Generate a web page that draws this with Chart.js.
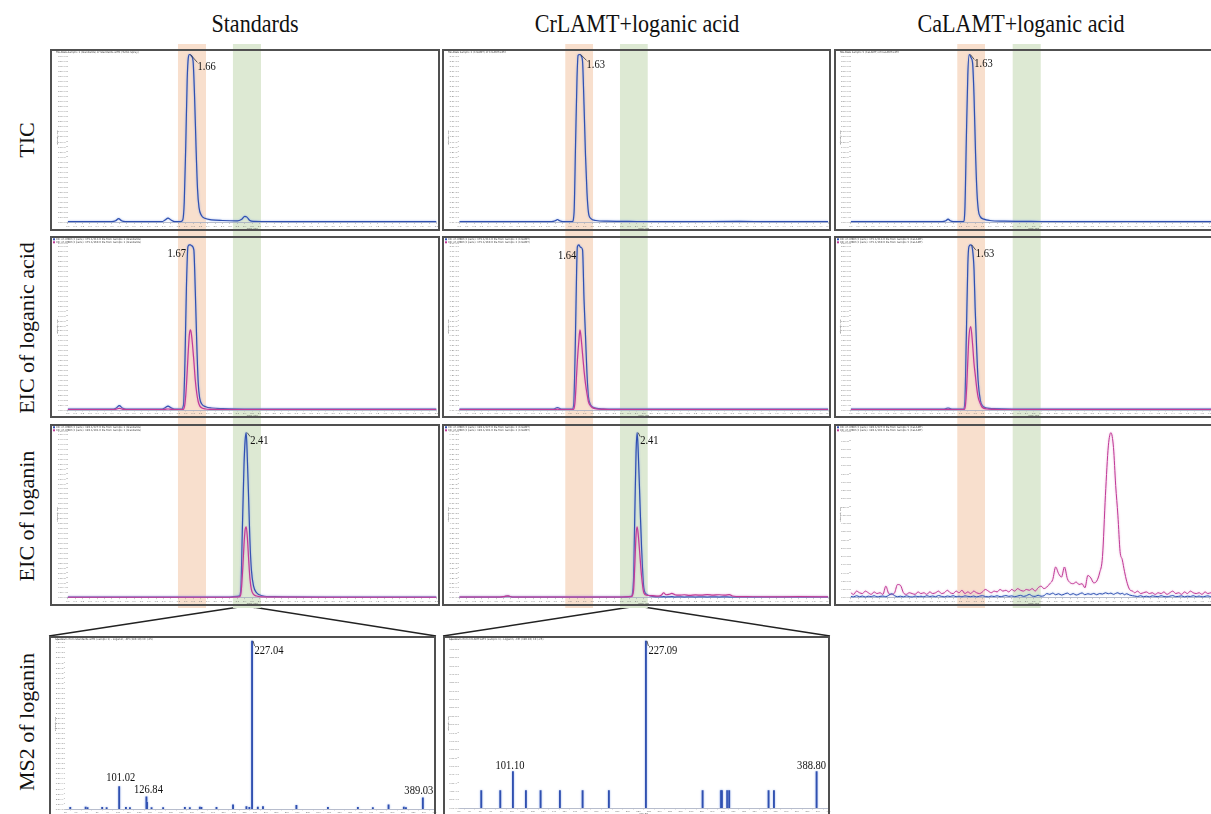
<!DOCTYPE html>
<html>
<head>
<meta charset="utf-8">
<script src="https://cdn.jsdelivr.net/npm/chart.js@4.4.0/dist/chart.umd.min.js"></script>
<style>
  body { margin: 0; background: #fff; width: 1211px; height: 814px; overflow: hidden; position: relative;
         font-family: "Liberation Serif", "Times New Roman", serif; color: #111; }
  canvas { position: absolute; }
  .colTitle { position: absolute; top: 11px; font-size: 26px; line-height: 1; white-space: nowrap;
              transform: translateX(-50%) scaleX(0.85); }
  .rowTitle { position: absolute; left: 27px; font-size: 22px; line-height: 1; white-space: nowrap;
              transform: translate(-50%, -50%) rotate(-90deg); }
  svg { position: absolute; left: 0; top: 0; }
</style>
</head>
<body>
<div class="colTitle" style="left:255px">Standards</div>
<div class="colTitle" style="left:637px">CrLAMT+loganic acid</div>
<div class="colTitle" style="left:1021px">CaLAMT+loganic acid</div>
<div class="rowTitle" style="top:140px">TIC</div>
<div class="rowTitle" style="top:328px">EIC of loganic acid</div>
<div class="rowTitle" style="top:516px">EIC of loganin</div>
<div class="rowTitle" style="top:722px">MS2 of loganin</div>
<svg id="links" width="1211" height="814"></svg>

<script>
// ---- data (retention time in min, intensity in % of panel max) ----
// TIC
const ticStdTime = [0, 0.60, 0.65, 0.69, 0.73, 0.78, 1.28, 1.32, 1.36, 1.40, 1.45, 1.53, 1.56, 1.58, 1.60, 1.62, 1.635, 1.65, 1.68, 1.70, 1.72, 1.74, 1.76, 1.78, 1.81, 1.86, 1.95, 2.10, 2.30, 2.36, 2.40, 2.43, 2.47, 2.52, 2.70, 3.20, 4.00, 5.00];
const ticStdBlue = [0.5, 0.5, 1.0, 2.3, 1.0, 0.5, 0.5, 1.5, 2.6, 1.5, 0.5, 0.5, 1.5, 12, 45, 85, 98, 100, 99, 96, 75, 45, 20, 9, 4.5, 2.5, 1.6, 1.2, 1.0, 2.0, 3.6, 3.2, 1.2, 0.7, 0.6, 0.5, 0.5, 0.5];
const ticCrTime = [0, 1.25, 1.30, 1.33, 1.36, 1.40, 1.53, 1.555, 1.575, 1.595, 1.61, 1.63, 1.655, 1.67, 1.69, 1.71, 1.73, 1.75, 1.78, 1.85, 2.0, 2.4, 3.0, 3.8, 4.2, 5.0];
const ticCrBlue = [0.5, 0.5, 1.0, 1.8, 1.0, 0.5, 0.5, 6, 46, 86, 99.5, 100, 99, 96, 70, 40, 18, 6, 2.5, 1.2, 0.8, 0.6, 0.5, 0.7, 0.5, 0.5];
const ticCaTime = [0, 1.25, 1.30, 1.33, 1.36, 1.40, 1.54, 1.56, 1.58, 1.60, 1.62, 1.645, 1.665, 1.685, 1.705, 1.725, 1.745, 1.77, 1.82, 1.90, 2.1, 2.6, 3.2, 3.8, 4.4, 5.0];
const ticCaBlue = [0.5, 0.5, 1.0, 2.0, 1.0, 0.5, 0.5, 8, 50, 88, 100, 98, 95, 75, 42, 18, 7, 3.5, 2, 1.2, 0.8, 0.6, 0.5, 0.6, 0.5, 0.5];

// EIC of loganic acid (blue / magenta transitions)
const laStdTime = [0, 0.62, 0.66, 0.70, 0.74, 0.79, 1.28, 1.32, 1.36, 1.40, 1.45, 1.54, 1.57, 1.59, 1.61, 1.63, 1.65, 1.665, 1.68, 1.71, 1.73, 1.75, 1.77, 1.79, 1.82, 1.87, 1.95, 2.1, 2.5, 3.5, 5.0];
const laStdBlue = [0.5, 0.5, 1.2, 2.6, 1.2, 0.5, 0.5, 1.3, 2.4, 1.3, 0.5, 0.5, 3, 30, 75, 99, 100, 100, 99.5, 97, 72, 40, 16, 7, 3.5, 2, 1.2, 0.8, 0.5, 0.5, 0.5];
const laStdPink = [0.2, 0.2, 0.5, 1.0, 0.5, 0.2, 0.2, 0.4, 0.6, 0.4, 0.2, 0.2, 0.5, 4, 15, 32, 46, 48.5, 45, 30, 18, 10, 5, 2.5, 1.2, 0.6, 0.4, 0.3, 0.2, 0.2, 0.2];
const laCrTime = [0, 1.26, 1.30, 1.33, 1.36, 1.40, 1.53, 1.55, 1.57, 1.59, 1.60, 1.62, 1.635, 1.65, 1.67, 1.69, 1.71, 1.73, 1.75, 1.77, 1.80, 1.86, 1.95, 2.2, 3.0, 5.0];
const laCrBlue = [0.5, 0.5, 0.9, 1.5, 0.9, 0.5, 0.5, 3, 35, 85, 99, 100, 99, 98.5, 97, 67, 45, 22, 8, 4, 2, 1.0, 0.7, 0.5, 0.5, 0.5];
const laCrPink = [0.2, 0.2, 0.3, 0.5, 0.3, 0.2, 0.2, 0.5, 6, 22, 30, 42, 48.5, 44, 34, 24, 16, 10, 5, 3, 1.5, 0.6, 0.4, 0.2, 0.2, 0.2];
const laCaTime = [0, 1.26, 1.30, 1.33, 1.36, 1.40, 1.54, 1.56, 1.58, 1.60, 1.615, 1.64, 1.665, 1.685, 1.70, 1.72, 1.74, 1.77, 1.80, 1.86, 1.95, 2.2, 3.0, 5.0];
const laCaBlue = [0.5, 0.5, 0.8, 1.2, 0.8, 0.5, 0.5, 5, 45, 88, 99, 100, 97, 85, 62, 38, 18, 6, 2.5, 1.2, 0.8, 0.5, 0.5, 0.5];
const laCaPink = [0.2, 0.2, 0.3, 0.4, 0.3, 0.2, 0.2, 1, 10, 30, 44, 50.5, 40, 28, 22, 14, 8, 4, 1.5, 0.6, 0.4, 0.2, 0.2, 0.2];

// EIC of loganin
const lgStdTime = [0, 2.20, 2.30, 2.33, 2.35, 2.37, 2.39, 2.405, 2.42, 2.435, 2.455, 2.47, 2.49, 2.52, 2.56, 2.64, 2.8, 3.5, 5.0];
const lgStdBlue = [0.4, 0.4, 0.8, 1.2, 8, 45, 80, 95, 100, 85, 57, 35, 17, 7, 3, 1.2, 0.6, 0.4, 0.4];
const lgStdPink = [0.2, 0.2, 0.4, 0.6, 3, 15, 32, 41, 43, 37, 22, 12, 5, 2, 1, 0.5, 0.3, 0.2, 0.2];
const lgCrTime = [0, 0.55, 0.62, 0.66, 0.72, 1.30, 2.20, 2.33, 2.36, 2.38, 2.395, 2.41, 2.425, 2.45, 2.47, 2.50, 2.54, 2.62, 2.70, 2.74, 2.77, 2.80, 2.84, 2.88, 2.92, 2.98, 3.05, 3.12, 3.20, 3.28, 3.36, 3.44, 3.52, 3.60, 3.66, 3.70, 3.76, 3.9, 4.2, 4.6, 5.0];
const lgCrBlue = [0.3, 0.3, 0.8, 1.0, 0.4, 0.3, 0.3, 0.8, 10, 55, 88, 100, 88, 55, 30, 6, 2, 0.8, 0.5, 0.5, 0.6, 0.4, 0.5, 0.6, 0.4, 0.5, 0.4, 0.5, 0.4, 0.5, 0.4, 0.5, 0.4, 0.5, 0.4, 0.4, 0.3, 0.3, 0.3, 0.3, 0.3];
const lgCrPink = [0.3, 0.3, 0.8, 1.1, 0.4, 0.4, 0.4, 0.6, 4, 22, 38, 43, 38, 24, 13, 3, 1.5, 1.2, 1.0, 1.6, 3.0, 1.8, 2.0, 2.6, 1.8, 1.5, 1.8, 1.4, 1.7, 1.5, 1.9, 1.6, 1.8, 1.5, 1.9, 1.0, 0.7, 0.6, 0.5, 0.6, 0.5];
const lgCaTime = [0.00, 0.04, 0.08, 0.12, 0.16, 0.20, 0.24, 0.28, 0.32, 0.36, 0.40, 0.44,
  0.48, 0.52, 0.56, 0.60, 0.64, 0.68, 0.72, 0.76, 0.80, 0.84, 0.88, 0.92,
  0.96, 1.00, 1.04, 1.08, 1.12, 1.16, 1.20, 1.24, 1.28, 1.32, 1.36, 1.40,
  1.44, 1.48, 1.52, 1.56, 1.60, 1.64, 1.68, 1.72, 1.76, 1.80, 1.84, 1.88,
  1.92, 1.96, 2.00, 2.04, 2.08, 2.12, 2.16, 2.20, 2.24, 2.28, 2.32, 2.36,
  2.40, 2.44, 2.48, 2.52, 2.56, 2.60, 2.64, 2.68, 2.72, 2.76, 2.80, 2.84,
  2.88, 2.92, 2.96, 3.00, 3.04, 3.08, 3.12, 3.16, 3.20, 3.24, 3.28, 3.32,
  3.36, 3.40, 3.44,
  3.48, 3.52, 3.555, 3.59, 3.62, 3.65, 3.68, 3.71, 3.74, 3.77, 3.81, 3.85,
  3.88, 3.92, 3.96, 4.00, 4.04, 4.08, 4.12, 4.16, 4.20, 4.24, 4.28, 4.32, 4.36, 4.40,
  4.44, 4.48, 4.52, 4.56, 4.60, 4.64, 4.68, 4.72, 4.76, 4.80, 4.84, 4.88, 4.92, 4.96];
const lgCaPink = [3, 2, 4, 3, 2.5, 4, 3, 2, 3.5, 2.5, 3, 2,
  7, 2.5, 2, 3, 8, 7.5, 3, 2, 3, 2.5, 2, 3.5,
  2.5, 3, 2, 3.5, 2.5, 3, 4, 2.5, 3, 4.5, 3, 2.5,
  4, 3, 4.5, 2.5, 3.5, 2.5, 4, 3, 2.5, 3.5, 5, 4,
  3, 4, 3.5, 5, 4, 4.5, 3.5, 5, 4, 5.5, 4.5, 4,
  5, 4.5, 5.5, 4, 6, 7, 5.5, 6.5, 8.5, 11, 18.6, 14.6,
  12.5, 18.6, 11.5, 9, 8.5, 9.5, 8, 8.5, 6, 13.5, 12, 9,
  10, 15, 25,
  62, 92, 100, 91, 68, 50, 28, 23, 16, 10, 5, 4,
  3, 4, 2.5, 3, 3.5, 2.5, 3, 2, 3, 2.5, 3.5, 2, 3, 4,
  2.5, 3, 2, 3.5, 2.5, 4, 3, 2.5, 3, 2, 3.5, 2.5, 3, 2.5];
const lgCaBlue = [0.8, 0.5, 1.2, 0.6, 1, 0.4, 0.9, 0.6, 1.2, 0.5, 0.8, 1,
  0.6, 1.5, 2.4, 1.2, 0.6, 0.9, 0.5, 1.1, 0.7, 0.4, 1, 0.6,
  0.9, 0.5, 1.2, 0.7, 1, 0.6, 1.3, 0.8, 0.5, 1, 0.7, 1.2,
  0.6, 0.9, 0.5, 1.1, 0.8, 0.6, 1, 0.5, 0.9, 1.2, 0.7, 0.5,
  1, 0.7, 1.2, 0.6, 0.9, 1.3, 0.8, 1.1, 0.6, 1, 1.4, 0.8,
  1.2, 2, 1, 0.8, 1.5, 0.9, 1.2, 2.5, 2, 2.8, 1.8, 2.4,
  1.6, 2.2, 2.8, 1.8, 2.5, 1.6, 2.2, 2.9, 1.8, 2.4, 2, 2.6,
  1.8, 2.5, 2.2,
  3, 2.4, 2.8, 2, 2.6, 3, 2.2, 2.7, 1.8, 2.4, 1.6, 1.2,
  1, 0.7, 1.2, 0.6, 0.9, 0.5, 1.1, 0.8, 0.6, 1.2, 0.7, 0.5, 0.9, 1.3,
  0.6, 0.8, 1.1, 0.5, 0.9, 0.7, 1.2, 0.6, 1, 0.5, 0.8, 1.1, 0.6, 0.9];

// MS2 of loganin (m/z, relative intensity %)
const ms2StdMz = [54.6, 69.2, 71.0, 84.9, 89.1, 101.02, 107.4, 111.2, 126.84, 127.4, 131.7, 142.7, 163.3, 168, 177.5, 179, 193.3, 209, 221.7, 224.5, 227.04, 232.5, 237.4, 269.1, 299, 327.4, 341.6, 356.5, 371, 373, 389.03];
const ms2StdInt = [1.0, 1.2, 0.8, 1.0, 0.8, 13.3, 1.0, 0.8, 7.3, 4.0, 0.8, 0.8, 1.0, 0.9, 1.2, 1.0, 1.0, 2.5, 1.4, 1.0, 100, 1.2, 1.4, 2.2, 1.0, 1.0, 0.8, 2.5, 1.2, 0.9, 6.7];
const ms2CrMz = [71.1, 89.1, 101.10, 113.4, 127.3, 145.6, 167.1, 192.0, 227.09, 280.8, 298.1, 299.1, 304.1, 306.0, 343.3, 348.4, 388.80];
const ms2CrInt = [10.5, 10.5, 21.8, 10.5, 10.5, 10.5, 10.5, 10.5, 100, 10.5, 10.5, 10.5, 10.5, 10.5, 10.5, 10.5, 21.8];

// ---- styling ----
const BLUE = '#3050b0', BLUE_HALO = 'rgba(130,160,230,0.9)';
const PINK = '#c03b97', PINK_HALO = 'rgba(230,150,205,0.9)';
const ORANGE = '#f8dfcd', GREEN = '#dde9d3';
const X_H = 7, Y_W = 12;

// page geometry of the columns / rows
const COLS = [
  { box: [50, 440], plot: [67.7, 436.5], canvas: [50, 440], bands: [[1.495, 1.875, ORANGE], [2.24, 2.62, GREEN]] },
  { box: [442, 831], plot: [459.3, 828.3], canvas: [442, 831], bands: [[1.436, 1.812, ORANGE], [2.177, 2.553, GREEN]] },
  { box: [834, 1230], plot: [850.7, 1216.7], canvas: [834, 1224], bands: [[1.456, 1.835, ORANGE], [2.213, 2.596, GREEN]] }
];
const ROWS = [
  { box: [49, 231], plot: [52.8, 222.5], canvas: [44, 234] },
  { box: [236, 418], plot: [243.3, 410], canvas: [234, 421] },
  { box: [424, 606], plot: [431, 597.7], canvas: [421, 608] }
];

function pts(xs, ys) { return xs.map((x, i) => ({ x: x, y: ys[i] })); }

const decor = {
  id: 'decor',
  beforeDraw(chart, args, o) {
    const ctx = chart.ctx, x = chart.scales.x;
    (o.bands || []).forEach(b => {
      const x0 = x.getPixelForValue(b[0]), x1 = x.getPixelForValue(b[1]);
      ctx.fillStyle = b[2];
      ctx.fillRect(x0, 0, x1 - x0, chart.height);
    });
  },
  beforeDatasetDraw(chart, args) {
    const ds = chart.data.datasets[args.index];
    chart.ctx.save();
    chart.ctx.shadowColor = ds.halo;
    chart.ctx.shadowBlur = 2;
  },
  afterDatasetDraw(chart) { chart.ctx.restore(); },
  afterDraw(chart, args, o) {
    const ctx = chart.ctx, x = chart.scales.x, y = chart.scales.y;
    const bx = o.box[0], by = o.box[1];
    // panel frame
    ctx.save();
    ctx.strokeStyle = '#505050';
    ctx.lineWidth = 2;
    ctx.strokeRect(bx + 1, by + 1, o.box[2] - 2, o.box[3] - 2);
    // tiny header lines
    ctx.font = '2.6px "DejaVu Sans", sans-serif';
    ctx.textBaseline = 'middle';
    o.header.forEach((h, i) => {
      const ty = by + 3.3 + i * 3;
      if (h.color) { ctx.fillStyle = h.color; ctx.fillRect(bx + 3, ty - 1, 2, 2); }
      ctx.fillStyle = '#444';
      ctx.fillText(h.text, bx + 6, ty);
    });
    // peak labels
    ctx.font = '13.5px "Liberation Serif", serif';
    ctx.fillStyle = '#111';
    o.labels.forEach(l => {
      const px = x.getPixelForValue(l.x), py = y.getPixelForValue(l.y);
      if (l.leader) {
        ctx.strokeStyle = '#333'; ctx.lineWidth = 0.8;
        ctx.beginPath(); ctx.moveTo(px + 1, py); ctx.lineTo(px + l.dx, py + l.dy - 4); ctx.stroke();
      }
      ctx.save();
      ctx.translate(px + l.dx, py + l.dy);
      ctx.scale(0.78, 1);
      ctx.textAlign = l.align;
      ctx.fillText(l.text, 0, 0);
      ctx.restore();
    });
    ctx.restore();
  }
};

function axisX(min, max, step, title, digits) {
  return {
    type: 'linear', min: min, max: max, offset: false,
    ticks: { stepSize: step, autoSkip: false, maxRotation: 0, padding: 0.5, color: '#777',
             font: { size: 2.5 }, callback: v => v.toFixed(digits) },
    grid: { display: true, drawOnChartArea: false, tickLength: 1.5, color: '#999', lineWidth: 0.5 },
    border: { color: '#a4acc0', width: 0.8 },
    title: { display: true, text: title, font: { size: 2.5 }, color: '#555', padding: 0 },
    afterFit: s => { s.height = X_H; }
  };
}
function axisY(max, step, cps) {
  return {
    min: 0, max: max,
    ticks: { stepSize: step, autoSkip: false, padding: 0.5, color: '#777', font: { size: 2.5 },
             callback: v => (v * cps / 100).toExponential(1) },
    grid: { display: true, drawOnChartArea: false, tickLength: 1.5, color: '#999', lineWidth: 0.5 },
    border: { display: false },
    title: { display: true, text: 'Intensity, cps', font: { size: 2.5 }, color: '#555', padding: 0 },
    afterFit: s => { s.width = Y_W; }
  };
}

function makePanel(p) {
  const [cl, cr] = p.canvasX, [ct, cb] = p.canvasY;
  const cv = document.createElement('canvas');
  cv.width = cr - cl; cv.height = cb - ct;
  cv.style.left = cl + 'px'; cv.style.top = ct + 'px';
  cv.style.width = (cr - cl) + 'px'; cv.style.height = (cb - ct) + 'px';
  document.body.appendChild(cv);
  const chart = new Chart(cv, {
    type: p.type,
    data: { datasets: p.datasets },
    options: {
      responsive: false, animation: false, events: [],
      layout: { padding: {
        left: p.plotX[0] - cl - Y_W, right: cr - p.plotX[1],
        top: p.plotY[0] - ct, bottom: cb - p.plotY[1] - X_H } },
      scales: { x: p.x, y: p.y },
      plugins: {
        legend: { display: false }, tooltip: { enabled: false },
        decor: {
          bands: p.bands || [], header: p.header, labels: p.labels,
          box: [p.boxX[0] - cl, p.boxY[0] - ct, p.boxX[1] - p.boxX[0], p.boxY[1] - p.boxY[0]]
        }
      }
    },
    plugins: [decor]
  });
  chart.$left = cl; chart.$top = ct;
  return chart;
}

function line(data, color, halo, width) {
  return { data: data, borderColor: color, halo: halo, borderWidth: width || 1.2, pointRadius: 0,
           cubicInterpolationMode: 'monotone', fill: false };
}

function chromPanel(ci, ri, series, header, labels, ymax, ystep, cps) {
  const c = COLS[ci], r = ROWS[ri];
  return makePanel({
    type: 'line',
    canvasX: c.canvas, canvasY: r.canvas, plotX: c.plot, plotY: r.plot,
    boxX: c.box, boxY: r.box, bands: c.bands,
    datasets: series, header: header, labels: labels,
    x: axisX(0, 5, 0.1, 'Time, min', 1), y: axisY(ymax, ystep, cps)
  });
}

const hdr = (t, c) => ({ text: t, color: c });

// row 1: TIC
chromPanel(0, 0, [line(pts(ticStdTime, ticStdBlue), BLUE, BLUE_HALO)],
  [hdr('TIC from Sample 1 (Standards) of Standards.wiff2 (Turbo Spray)')],
  [{ text: '1.66', x: 1.65, y: 100, dx: 8, dy: 12, align: 'left', leader: true }], 101, 3, 3.6e6);
chromPanel(1, 0, [line(pts(ticCrTime, ticCrBlue), BLUE, BLUE_HALO)],
  [hdr('TIC from Sample 3 (CrLAMT) of CrLAMT.wiff2')],
  [{ text: '1.63', x: 1.63, y: 100, dx: 7, dy: 10, align: 'left', leader: true }], 101, 3, 2.9e6);
chromPanel(2, 0, [line(pts(ticCaTime, ticCaBlue), BLUE, BLUE_HALO)],
  [hdr('TIC from Sample 5 (CaLAMT) of CaLAMT.wiff2')],
  [{ text: '1.63', x: 1.62, y: 100, dx: 5, dy: 9, align: 'left', leader: true }], 101, 3, 3.1e6);

// row 2: EIC of loganic acid
chromPanel(0, 1, [line(pts(laStdTime, laStdPink), PINK, PINK_HALO), line(pts(laStdTime, laStdBlue), BLUE, BLUE_HALO)],
  [hdr('XIC of -MRM (2 pairs): 375.1/213.0 Da from Sample 1 (Standards)', BLUE),
   hdr('XIC of -MRM (2 pairs): 375.1/169.0 Da from Sample 1 (Standards)', PINK)],
  [{ text: '1.67', x: 1.63, y: 100, dx: -2, dy: 9, align: 'right' }], 101, 3, 2.4e6);
chromPanel(1, 1, [line(pts(laCrTime, laCrPink), PINK, PINK_HALO), line(pts(laCrTime, laCrBlue), BLUE, BLUE_HALO)],
  [hdr('XIC of -MRM (2 pairs): 375.1/213.0 Da from Sample 3 (CrLAMT)', BLUE),
   hdr('XIC of -MRM (2 pairs): 375.1/169.0 Da from Sample 3 (CrLAMT)', PINK)],
  [{ text: '1.64', x: 1.60, y: 99, dx: -1, dy: 9, align: 'right' }], 101, 3, 2.0e6);
chromPanel(2, 1, [line(pts(laCaTime, laCaPink), PINK, PINK_HALO), line(pts(laCaTime, laCaBlue), BLUE, BLUE_HALO)],
  [hdr('XIC of -MRM (2 pairs): 375.1/213.0 Da from Sample 5 (CaLAMT)', BLUE),
   hdr('XIC of -MRM (2 pairs): 375.1/169.0 Da from Sample 5 (CaLAMT)', PINK)],
  [{ text: '1.63', x: 1.64, y: 100, dx: 5, dy: 9, align: 'left', leader: true }], 101, 3, 2.2e6);

// row 3: EIC of loganin
const lgStd = chromPanel(0, 2, [line(pts(lgStdTime, lgStdPink), PINK, PINK_HALO), line(pts(lgStdTime, lgStdBlue), BLUE, BLUE_HALO)],
  [hdr('XIC of -MRM (2 pairs): 389.1/227.0 Da from Sample 1 (Standards)', BLUE),
   hdr('XIC of -MRM (2 pairs): 389.1/101.0 Da from Sample 1 (Standards)', PINK)],
  [{ text: '2.41', x: 2.42, y: 100, dx: 4, dy: 8, align: 'left', leader: true }], 101, 3, 1.5e6);
const lgCr = chromPanel(1, 2, [line(pts(lgCrTime, lgCrPink), PINK, PINK_HALO), line(pts(lgCrTime, lgCrBlue), BLUE, BLUE_HALO)],
  [hdr('XIC of -MRM (2 pairs): 389.1/227.0 Da from Sample 3 (CrLAMT)', BLUE),
   hdr('XIC of -MRM (2 pairs): 389.1/101.0 Da from Sample 3 (CrLAMT)', PINK)],
  [{ text: '2.41', x: 2.41, y: 100, dx: 3, dy: 8, align: 'left', leader: true }], 101, 3, 9.8e5);
chromPanel(2, 2, [line(pts(lgCaTime, lgCaBlue), BLUE, BLUE_HALO, 1), line(pts(lgCaTime, lgCaPink), PINK, PINK_HALO, 1)],
  [hdr('XIC of -MRM (2 pairs): 389.1/227.0 Da from Sample 5 (CaLAMT)', BLUE),
   hdr('XIC of -MRM (2 pairs): 389.1/101.0 Da from Sample 5 (CaLAMT)', PINK)],
  [], 101, 5, 950);

// row 4: MS2 spectra
function ms2Panel(boxX, plotX, plotBottom, mz, inten, step, header, labels) {
  return makePanel({
    type: 'bar',
    canvasX: [boxX[0], boxX[1] + 1], canvasY: [630, 822], plotX: plotX, plotY: [639.3, plotBottom],
    boxX: boxX, boxY: [636, 840],
    datasets: [{ data: pts(mz, inten), backgroundColor: BLUE, halo: BLUE_HALO, barThickness: 1.2, grouped: false }],
    header: header, labels: labels,
    x: axisX(50, 400, 10, 'm/z, Da', 0), y: axisY(101, step, 4.2e5)
  });
}
const msStd = ms2Panel([49, 436], [65.4, 434.9], 809, ms2StdMz, ms2StdInt, 3,
  [hdr('Spectrum from Standards.wiff2 (sample 1) - Loganin, -EPI (389.10) CE (-25)')],
  [{ text: '227.04', x: 227.04, y: 100, dx: 2.5, dy: 9, align: 'left', leader: true },
   { text: '101.02', x: 101.02, y: 13.3, dx: 1.5, dy: -9, align: 'center' },
   { text: '126.84', x: 126.84, y: 7.3, dx: 2, dy: -7, align: 'center' },
   { text: '389.03', x: 389.03, y: 6.7, dx: -4, dy: -7, align: 'center' }]);
const msCr = ms2Panel([443, 830], [459, 828.5], 808, ms2CrMz, ms2CrInt, 5,
  [hdr('Spectrum from CrLAMT.wiff2 (sample 3) - Loganin, -EPI (389.10) CE (-25)')],
  [{ text: '227.09', x: 227.09, y: 100, dx: 2.5, dy: 9, align: 'left', leader: true },
   { text: '101.10', x: 101.10, y: 21.8, dx: -3, dy: -6, align: 'center' },
   { text: '388.80', x: 388.80, y: 21.8, dx: -5, dy: -6, align: 'center' }]);

// zoom connectors from the loganin peak down to the MS2 frames
const svg = document.getElementById('links');
[[lgStd, 2.41, [49, 436]], [lgCr, 2.41, [443, 830]]].forEach(([ch, t, bx]) => {
  const px = ch.$left + ch.scales.x.getPixelForValue(t);
  const py = ROWS[2].box[1];
  const top = 636;
  [bx[0], bx[1]].forEach(ex => {
    const l = document.createElementNS('http://www.w3.org/2000/svg', 'line');
    l.setAttribute('x1', px); l.setAttribute('y1', py);
    l.setAttribute('x2', ex); l.setAttribute('y2', top);
    l.setAttribute('stroke', '#222'); l.setAttribute('stroke-width', '1.5');
    svg.appendChild(l);
  });
});
</script>
</body>
</html>
